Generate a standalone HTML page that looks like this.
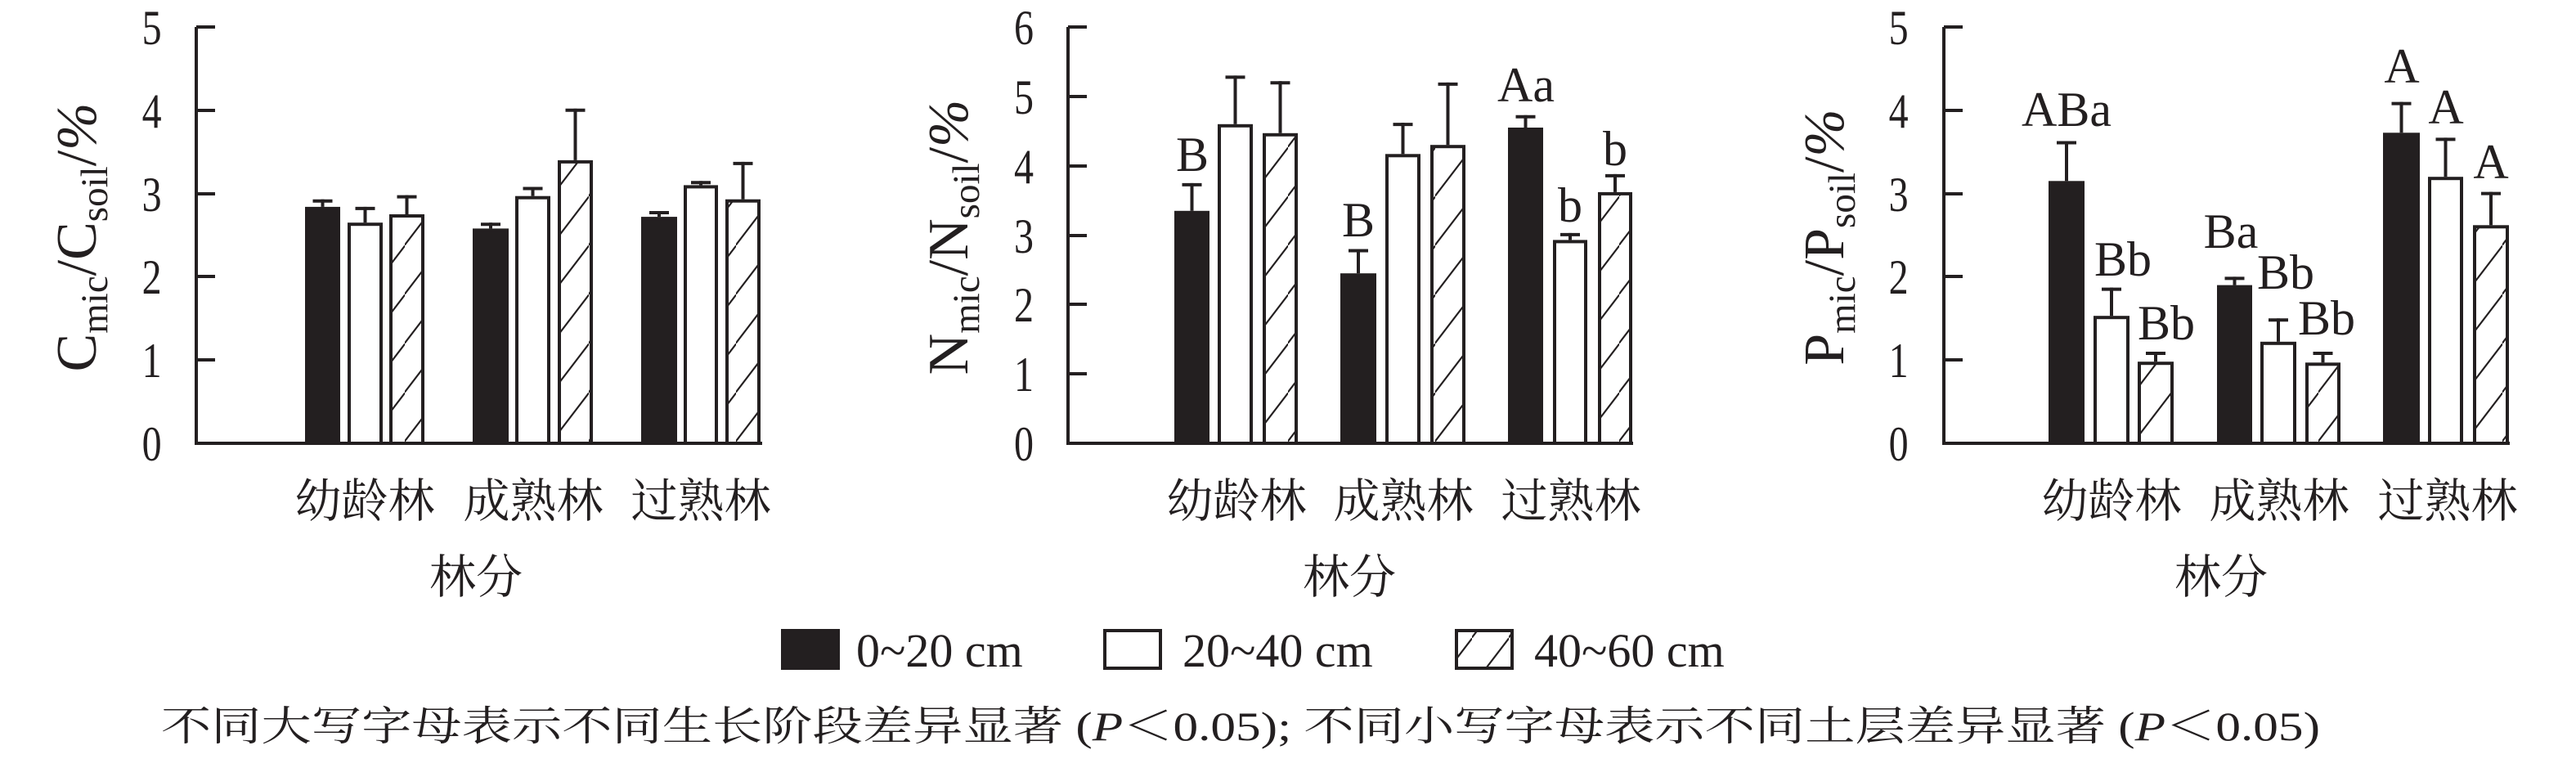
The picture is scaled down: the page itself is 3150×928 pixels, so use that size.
<!DOCTYPE html>
<html><head><meta charset="utf-8"><style>
html,body{margin:0;padding:0;background:#fff;}
svg{display:block;}
text{font-family:"Liberation Serif","Noto Serif CJK SC",serif;fill:#231f20;}
.cj{font-family:"Liberation Serif","Noto Serif CJK SC","Noto Sans CJK SC",serif;}
.tk{font-size:60px;text-anchor:end;}
.ct{font-size:57px;text-anchor:middle;}
.an{font-size:60px;text-anchor:middle;}
</style></head><body>
<svg id="s" width="3150" height="928" viewBox="0 0 3150 928" xmlns="http://www.w3.org/2000/svg">
<defs>
<pattern id="h" patternUnits="userSpaceOnUse" width="45" height="60"><line x1="-2" y1="62" x2="47" y2="-2" stroke="#231f20" stroke-width="2.2"/></pattern>
</defs>
<g id="bars"></g>
<g stroke="#231f20" stroke-width="4" fill="none">
<path d="M240,33 V542 H932"/>
<path d="M240,33h23M240,135h23M240,237h23M240,338h23M240,440h23"/>
<path d="M1306,33 V542 H1997"/>
<path d="M1306,33h23M1306,118h23M1306,203h23M1306,288h23M1306,372h23M1306,457h23"/>
<path d="M2377,33 V542 H3069"/>
<path d="M2377,33h23M2377,135h23M2377,237h23M2377,338h23M2377,440h23"/>
</g>
<g class="tk" transform="scale(0.8,1)">
<text x="247" y="54">5</text><text x="247" y="156">4</text><text x="247" y="258">3</text><text x="247" y="359">2</text><text x="247" y="461">1</text><text x="247" y="563">0</text>
<text x="1580" y="54">6</text><text x="1580" y="139">5</text><text x="1580" y="224">4</text><text x="1580" y="309">3</text><text x="1580" y="393">2</text><text x="1580" y="478">1</text><text x="1580" y="563">0</text>
<text x="2917" y="54">5</text><text x="2917" y="156">4</text><text x="2917" y="258">3</text><text x="2917" y="359">2</text><text x="2917" y="461">1</text><text x="2917" y="563">0</text>
</g>
<text transform="translate(117,290) rotate(-90)" text-anchor="middle" style="font-size:70px">C<tspan dy="14" style="font-size:47px">mic</tspan><tspan dy="-14">/C</tspan><tspan dy="14" style="font-size:47px">soil</tspan><tspan dy="-14">/</tspan><tspan font-style="italic">%</tspan></text>
<text transform="translate(1183,290) rotate(-90)" text-anchor="middle" style="font-size:70px">N<tspan dy="14" style="font-size:47px">mic</tspan><tspan dy="-14">/N</tspan><tspan dy="14" style="font-size:47px">soil</tspan><tspan dy="-14">/</tspan><tspan font-style="italic">%</tspan></text>
<text transform="translate(2254,290) rotate(-90)" text-anchor="middle" style="font-size:70px">P<tspan dy="14" style="font-size:47px">mic</tspan><tspan dy="-14">/P</tspan><tspan dy="14" style="font-size:47px">soil</tspan><tspan dy="-14">/</tspan><tspan font-style="italic">%</tspan></text>
<g class="ct cj">
<text x="446" y="632">幼龄林</text><text x="652" y="632">成熟林</text><text x="857" y="632">过熟林</text>
<text x="1512" y="632">幼龄林</text><text x="1716" y="632">成熟林</text><text x="1921" y="632">过熟林</text>
<text x="2582" y="632">幼龄林</text><text x="2787" y="632">成熟林</text><text x="2993" y="632">过熟林</text>
<text x="582" y="725">林分</text><text x="1650" y="725">林分</text><text x="2716" y="725">林分</text>
</g>
<g class="an">
<text x="1458" y="209">B</text><text x="1661" y="289">B</text><text x="1866" y="124">Aa</text>
<text x="1920" y="271">b</text><text x="1975" y="202">b</text>
<text x="2527" y="154">ABa</text><text x="2596" y="337">Bb</text><text x="2649" y="415">Bb</text>
<text x="2728" y="303">Ba</text><text x="2795" y="353">Bb</text><text x="2845" y="409">Bb</text>
<text x="2937" y="101">A</text><text x="2991" y="151">A</text><text x="3046" y="218">A</text>
</g>
<rect x="957" y="771" width="68" height="46" fill="#231f20" stroke="#231f20" stroke-width="4"/>
<text x="1047" y="815" style="font-size:58px">0~20 cm</text>
<rect x="1351" y="771" width="68" height="46" fill="#fff" stroke="#231f20" stroke-width="4"/>
<text x="1446" y="815" style="font-size:58px">20~40 cm</text>
<rect x="1781" y="771" width="68" height="46" fill="url(#h)" stroke="#231f20" stroke-width="4"/>
<text x="1876" y="815" style="font-size:58px">40~60 cm</text>
<text class="cj" x="197" y="905" style="font-size:50px" textLength="2640" lengthAdjust="spacingAndGlyphs">不同大写字母表示不同生长阶段差异显著 (<tspan font-style="italic">P</tspan>＜0.05); 不同小写字母表示不同土层差异显著 (<tspan font-style="italic">P</tspan>＜0.05)</text>
</svg>
<script>
var data=[
[373,43,0,252.9,243.7],[425,43,1,272.2,252.9],[476,43,2,262.0,238.6],
[578,44,0,279.4,272.2],[630,43,1,239.7,228.5],[682,43,2,195.9,132.8],
[784,44,0,265.1,258.0],[836,42,1,226.4,221.3],[887,43,2,243.7,197.9],
[1436,43,0,257.8,223.9],[1489,43,1,151.8,92.4],[1544,43,2,162.8,99.2],
[1639,44,0,334.2,304.5],[1694,43,1,188.3,150.1],[1749,43,2,177.2,100.9],
[1844,43,0,156.0,140.8],[1899,42,1,293.4,284.9],[1954,42,2,234.9,212.9],
[2505,44,0,221.3,172.5],[2560,44,1,386.2,351.6],[2614,44,2,442.2,430.0],
[2711,43,0,348.6,338.4],[2764,44,1,417.8,389.3],[2819,43,2,443.3,430.0],
[2914,45,0,162.3,124.6],[2969,43,1,216.2,168.4],[3024,44,2,275.3,234.6]];
var g=document.getElementById('bars'),h='';
data.forEach(function(d){
 var x=d[0]+2,w=d[1]-4,t=d[3],f=d[2]==0?'#231f20':(d[2]==1?'#fff':'url(#h)');
 var cx=d[0]+d[1]/2;
 h+='<line x1="'+cx+'" y1="'+t+'" x2="'+cx+'" y2="'+d[4]+'" stroke="#231f20" stroke-width="4"/>';
 h+='<line x1="'+(cx-12)+'" y1="'+(d[4]+2)+'" x2="'+(cx+12)+'" y2="'+(d[4]+2)+'" stroke="#231f20" stroke-width="4"/>';
 h+='<rect x="'+x+'" y="'+(t+2)+'" width="'+w+'" height="'+(542-t-2)+'" fill="'+f+'" stroke="#231f20" stroke-width="4"/>';
});
g.innerHTML=h;
</script>
</body></html>
